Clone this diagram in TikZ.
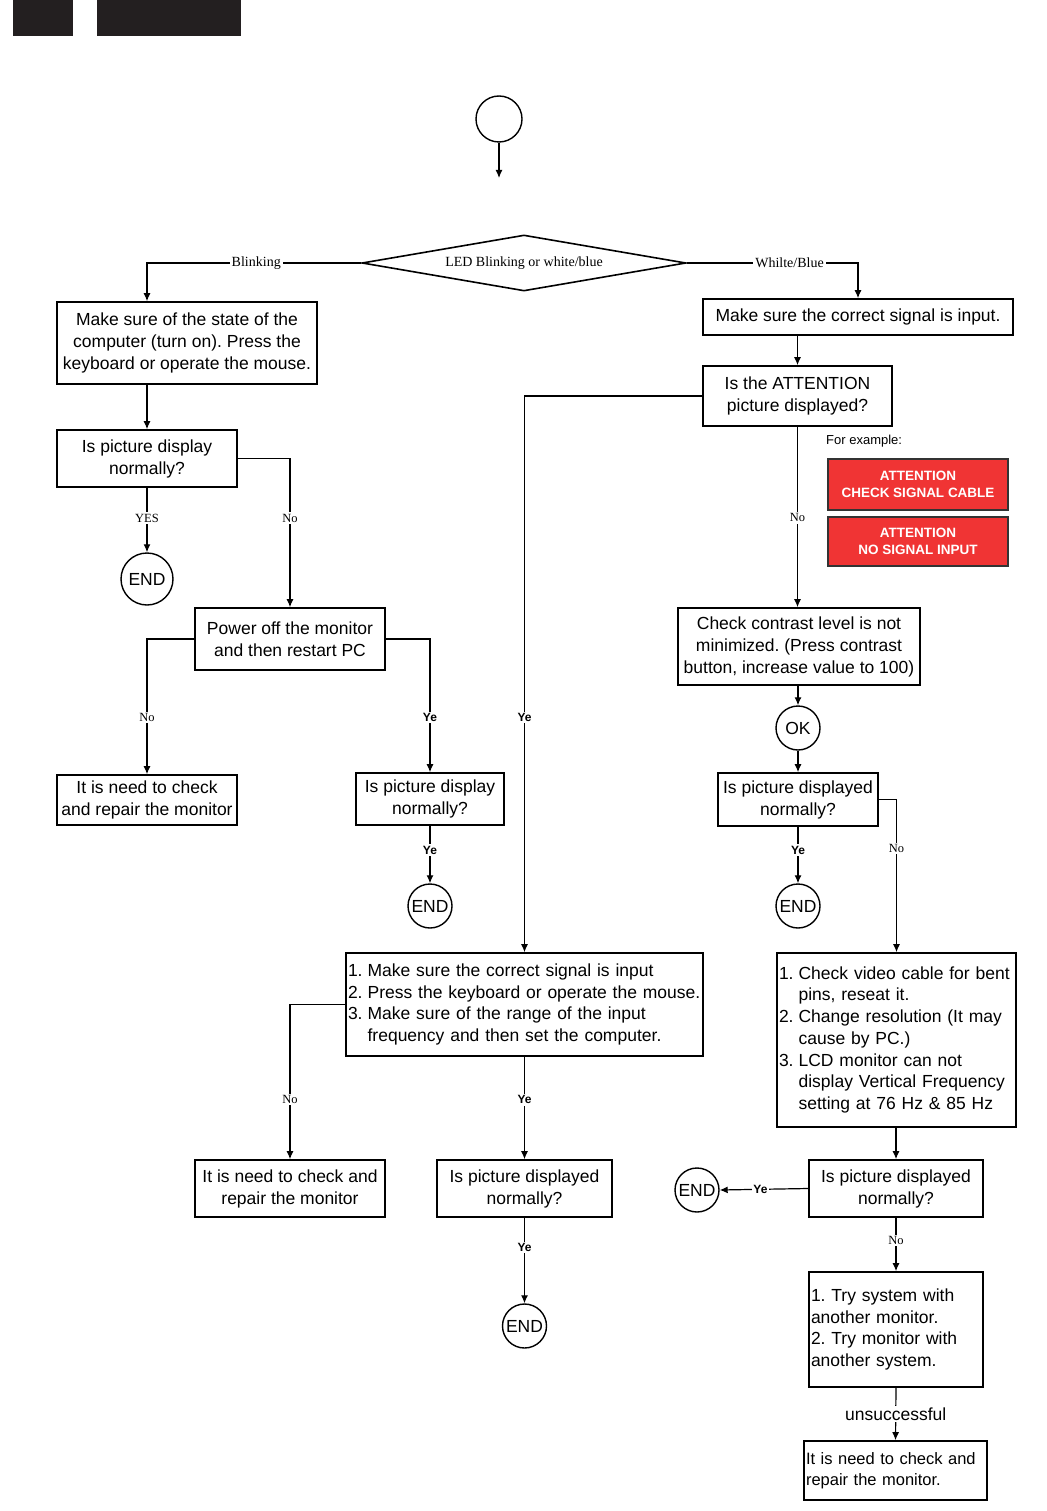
\documentclass[tikz,border=0pt]{standalone}
\usepackage{fontspec}
\setmainfont{Liberation Sans}
\newfontfamily\lserif{Liberation Serif}
\usetikzlibrary{arrows.meta,shapes.geometric,calc}
\definecolor{redfill}{RGB}{240,52,52}
\definecolor{inkblack}{RGB}{35,31,32}
\frenchspacing
\begin{document}
\begin{tikzpicture}[x=1pt,y=-1pt,
  box/.style n args={2}{draw, line width=1.6pt, inner sep=0pt, minimum width=#1pt, minimum height=#2pt, font=\fontsize{17.5}{22}\selectfont, align=center},
  lbox/.style n args={2}{draw, line width=1.6pt, inner ysep=0pt, inner xsep=2pt, text width=#1pt-4pt, minimum height=#2pt, font=\fontsize{17.5}{21.7}\selectfont, align=left},
  conn/.style={line width=1.2pt},
  arr/.style={conn, -{Latex[length=8pt,width=7pt]}},
  lbl/.style={fill=white, inner sep=1.5pt, font=\lserif\fontsize{12.5}{14}\selectfont},
  biglbl/.style={fill=white, inner sep=2pt, font=\lserif\fontsize{14}{16}\selectfont},
  ylbl/.style={fill=white, inner sep=1.5pt, font=\bfseries\fontsize{12}{14}\selectfont},
  endc/.style={circle, draw, line width=1.4pt, inner sep=0pt, minimum size=#1pt, font=\fontsize{17.5}{20}\selectfont},
  redbox/.style={draw=black!80, line width=1.3pt, fill=redfill, text=white, font=\bfseries\fontsize{13.5}{17}\selectfont, align=center, minimum width=180pt, minimum height=#1pt, inner sep=0pt}
]
\useasboundingbox (0,0) rectangle (1046,1511);
% header blocks
\fill[inkblack] (13,0) rectangle (73,36);
\fill[inkblack] (97,0) rectangle (241,36);

% start
\node[endc=46] (top) at (499,119) {};
\coordinate (topend) at (499,178);
\draw[arr] (top.south) -- (topend);

% diamond
\node[diamond, draw, line width=1.6pt, minimum width=324pt, minimum height=56pt, aspect=5.8, inner sep=0pt, font=\lserif\fontsize{14}{16}\selectfont] (dia) at (524,263) {LED Blinking or white/blue};

% left branch
\node[box={260}{82}] (A) at (187,343) {Make sure of the state of the\\computer (turn on). Press the\\keyboard or operate the mouse.};
\node[box={180}{57}] (B) at (147,458.5) {Is picture display\\normally?};
\node[endc=52] (endB) at (147,579) {END};
\node[box={190}{62}] (C) at (290,639) {Power off the monitor\\and then restart PC};
\node[box={180}{50}] (D) at (147,800) {It is need to check\\and repair the monitor};
\node[box={148}{52}] (E) at (430,799) {Is picture display\\normally?};
\node[endc=44] (endE) at (430,906) {END};

% right branch
\node[box={310}{36}] (F) at (858,317) {Make sure the correct signal is input.};
\node[box={189}{60}] (G) at (797.5,396) {Is the ATTENTION\\picture displayed?};
\node[anchor=west, inner sep=0pt, font=\fontsize{13}{15}\selectfont] (ex) at (826,441) {For example:};
\node[redbox=51] (R1) at (918,484.5) {ATTENTION\\CHECK SIGNAL CABLE};
\node[redbox=49] (R2) at (918,541.5) {ATTENTION\\NO SIGNAL INPUT};
\node[box={242}{77}] (I) at (799,646.5) {Check contrast level is not\\minimized. (Press contrast\\button, increase value to 100)};
\node[endc=44] (OK) at (798,728) {OK};
\node[box={160}{53}] (J) at (798,799.5) {Is picture displayed\\normally?};
\node[endc=44] (endJ) at (798,906) {END};
\node[lbox={239}{174}] (K) at (896.5,1040) {\begin{tabular}{@{}l@{\hspace{5pt}}l@{}}1. & Check video cable for bent\\ & pins, reseat it.\\ 2. & Change resolution (It may\\ & cause by PC.)\\ 3. & LCD monitor can not\\ & display Vertical Frequency\\ & setting at 76 Hz \& 85 Hz\end{tabular}};
\node[box={174}{57}] (L) at (896,1188.5) {Is picture displayed\\normally?};
\node[endc=44] (endL) at (697,1190) {END};
\node[lbox={174}{115}] (M) at (896,1329.5) {1. Try system with\\another monitor.\\2. Try monitor with\\another system.};
\node[lbox={183}{59}, font=\fontsize{16.5}{21}\selectfont] (N) at (895.5,1470.5) {It is need to check and\\repair the monitor.};

% middle branch
\node[lbox={357}{103}] (H) at (524.5,1004.5) {\begin{tabular}{@{}l@{\hspace{5pt}}l@{}}1. & Make sure the correct signal is input\\ 2. & Press the keyboard or operate the mouse.\\ 3. & Make sure of the range of the input\\ & frequency and then set the computer.\end{tabular}};
\node[box={190}{57}] (O) at (290,1188.5) {It is need to check and\\repair the monitor};
\node[box={175}{57}] (P) at (524.5,1188.5) {Is picture displayed\\normally?};
\node[endc=44] (endP) at (524.5,1326) {END};

% connectors
\draw[arr] (dia.west) -| node[biglbl,pos=0.245]{Blinking} (A.north -| B.north);
\draw[arr] (dia.east) -| node[biglbl,pos=0.3]{Whilte/Blue} (F.north);
\draw[arr] (A.south -| B.north) -- (B.north);
\draw[arr] (B.south) -- node[lbl,pos=0.47]{YES} (endB.north);
\draw[arr] (B.east) -| node[lbl,pos=0.7]{No} (C.north);
\draw[arr] (C.west) -| node[lbl,pos=0.79]{No} (D.north);
\draw[arr] (C.east) -| node[ylbl,pos=0.795]{Ye} (E.north);
\draw[arr] (E.south) -- node[ylbl,pos=0.42]{Ye} (endE.north);
\draw[arr] (F.south -| G.north) -- (G.north);
\draw[arr] (G.west) -| node[ylbl,pos=0.789]{Ye} (H.north);
\draw[arr] (G.south) -- node[lbl,pos=0.505]{No} (G.south |- I.north);
\draw[arr] (I.south -| OK.north) -- (OK.north);
\draw[arr] (OK.south) -- (J.north);
\draw[arr] (J.south) -- node[ylbl,pos=0.41]{Ye} (endJ.north);
\draw[arr] (J.east) -| node[lbl,pos=0.66]{No} (K.north);
\draw[arr] (K.south -| L.north) -- (L.north);
\draw[arr] (L.west) -- node[ylbl,pos=0.54]{Ye} (endL.east);
\draw[arr] (L.south) -- node[lbl,pos=0.42]{No} (M.north);
\draw[arr] (M.south) -- node[fill=white, inner sep=1.5pt, font=\fontsize{17.5}{20}\selectfont, pos=0.5]{unsuccessful} (N.north);
\draw[arr] (H.west) -| node[lbl,pos=0.807]{No} (O.north);
\draw[arr] (H.south) -- node[ylbl,pos=0.42]{Ye} (P.north);
\draw[arr] (P.south) -- node[ylbl,pos=0.345]{Ye} (endP.north);
\end{tikzpicture}
\end{document}
